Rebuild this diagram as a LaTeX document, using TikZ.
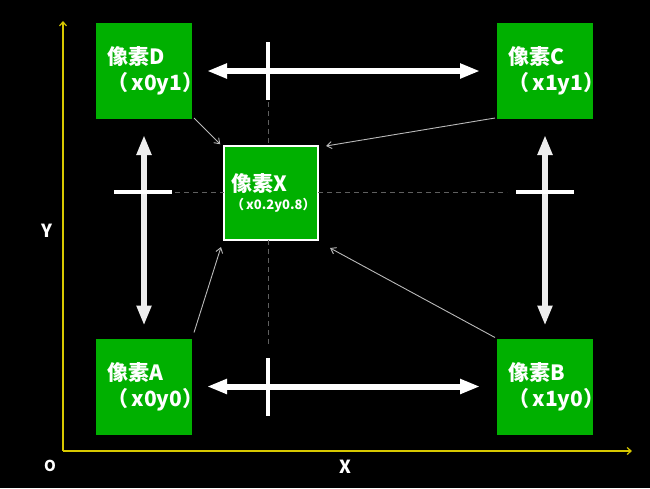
\documentclass[tikz,border=0pt]{standalone}
\usepackage{fontspec}
\setmainfont{Noto Sans CJK SC}
\usetikzlibrary{positioning}
\usetikzlibrary{arrows.meta}
\definecolor{pixgreen}{RGB}{0,176,0}
\definecolor{guidegray}{RGB}{95,95,95}
\definecolor{linkgray}{RGB}{185,185,185}
\definecolor{axisyellow}{RGB}{215,200,0}
\definecolor{barwhite}{RGB}{238,238,238}

\begin{document}
\begin{tikzpicture}[x=1pt,y=-1pt,every node/.style={inner sep=0,outer sep=0,text=white},
	pix/.style={fill=pixgreen,minimum size=96pt,text width=74pt,align=left,font=\bfseries\fontsize{21}{31}\selectfont},
	mid/.style={fill=pixgreen,draw=white,line width=1.5pt,minimum size=94pt,text width=80pt,align=left,font=\bfseries\fontsize{21}{20}\selectfont},
	fat/.style={line width=6pt,{Triangle[length=20pt,width=14pt]}-{Triangle[length=20pt,width=14pt]}},
	bar/.style={white,line width=3.5pt},
	guide/.style={guidegray,dashed,line width=0.8pt,dash pattern=on 5pt off 4pt},
	link/.style={linkgray,line width=0.9pt,-{Straight Barb[length=5pt,width=7pt]}},
	axis/.style={axisyellow,line width=1.2pt,-{Straight Barb[length=4pt,width=7pt]}},
	lab/.style={font=\bfseries\fontsize{18}{18}\selectfont}]
	\fill[black] (0,0) rectangle (650,488);
	\useasboundingbox (0,0) rectangle (650,488);
	% axes
	\coordinate (o) at (63,451);
	\draw[axis] (o) -- (63,21);
	\draw[axis] (o) -- (632,451);
	\node[lab] (ylab) at (47,231) {Y};
	\node[lab,font=\bfseries\fontsize{15}{15}\selectfont] (olab) at (50,466) {O};
	\node[lab] (xlab) at (345,467) {X};
	% pixels
	\node[pix] (d) at (144,71) {像素D\\\kern-5pt（\,x0y1）};
	\node[pix] (c) at (545,71) {像素C\\\kern-5pt（\,x1y1）};
	\node[pix] (a) at (144,386.5) {像素A\\\kern-5pt（\,x0y0）};
	\node[pix] (b) at (545,386.5) {像素B\\\kern-5pt（\,x1y0）};
	\node[mid] (x) at (271,193) {像素X\\{\fontsize{13}{13}\selectfont\kern-2pt（\,x0.2y0.8）}};
	% cross marks
	\coordinate (ct) at (268,71);
	\coordinate (cb) at (268,387);
	\coordinate (cl) at (143,192);
	\coordinate (cr) at (545,192);
	\draw[guide] (ct) ++(0,31) -- (ct |- x.north);
	\draw[guide] (ct |- x.south) -- ([yshift=42pt]cb);
	\draw[guide] ([xshift=32pt]cl) -- (x.west |- cl);
	\draw[guide] (x.east |- cr) -- ([xshift=-38pt]cr);
	\draw[fat,white,shorten <=15pt,shorten >=17pt] (d) -- (c);
	\draw[fat,white,shorten <=15pt,shorten >=17pt] (a) -- (b);
	\draw[fat,barwhite,shorten <=16pt,shorten >=13pt] (d) -- (a);
	\draw[fat,barwhite,shorten <=16pt,shorten >=13pt] (c) -- (b);
	\draw[bar] (ct) +(0,-29) -- +(0,29);
	\draw[bar] (cb) +(0,-29) -- +(0,29);
	\draw[bar] (cl) +(-29,0) -- +(29,0);
	\draw[bar] (cr) +(-29,0) -- +(29,0);
	% links to X
	\draw[link,shorten >=1pt] ([shift={(2pt,1pt)}]d.south east) -- ([shift={(-3pt,1pt)}]x.north west);
	\draw[link] ([shift={(-2pt,1pt)}]c.south west) -- ([xshift=8pt]x.north east);
	\draw[link] ([shift={(2pt,6pt)}]a.north east) -- ([shift={(-3pt,-7pt)}]x.south west);
	\draw[link] ([shift={(-2pt,1pt)}]b.north west) -- ([shift={(12pt,-8pt)}]x.south east);
\end{tikzpicture}
\end{document}
